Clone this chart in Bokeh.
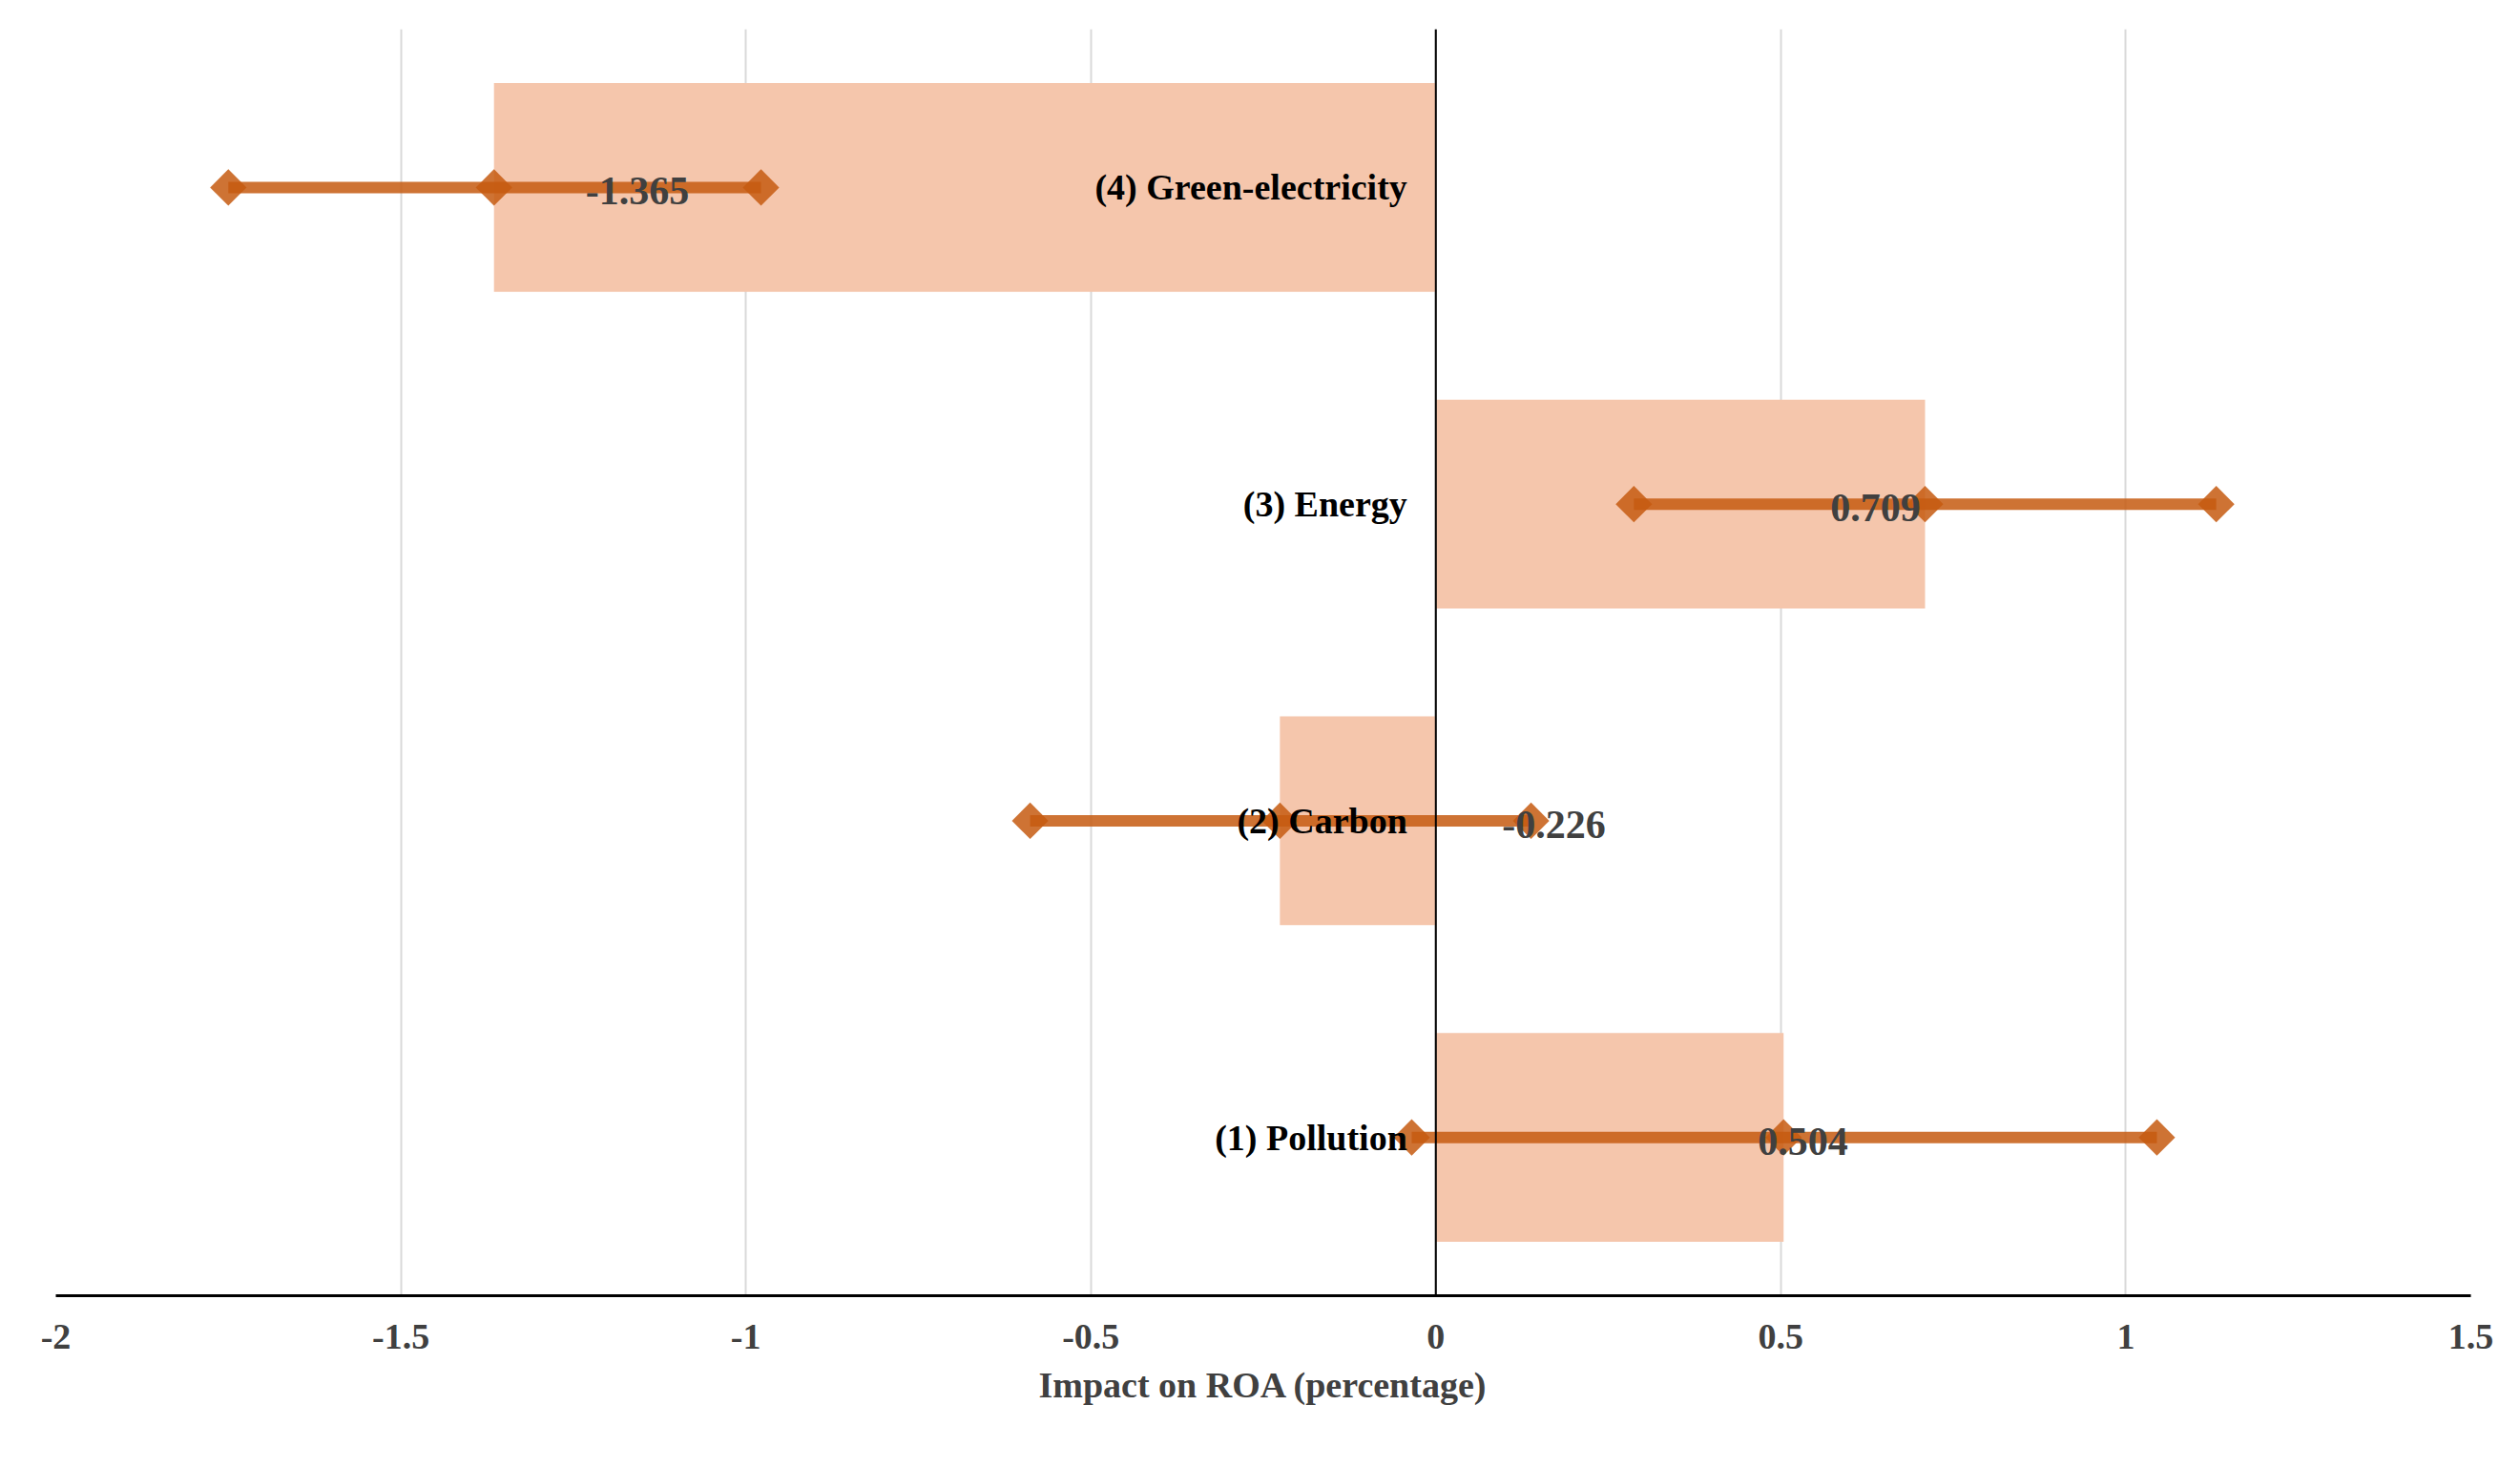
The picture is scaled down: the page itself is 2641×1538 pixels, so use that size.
import numpy as np
from bokeh.plotting import figure
from bokeh.models import ColumnDataSource, Span, FixedTicker, FactorRange
from bokeh.core.properties import value
from bokeh.embed import file_html
from bokeh.resources import INLINE

# ---- data ----
categories = ["(1) Pollution", "(2) Carbon", "(3) Energy", "(4) Green-electricity"]
estimates = [0.504, -0.226, 0.709, -1.365]
ci_low = [-0.035, -0.588, 0.287, -1.750]
ci_high = [1.045, 0.138, 1.131, -0.978]
value_label_x = [0.532, 0.171, 0.637, -1.157]
value_labels = ["0.504", "-0.226", "0.709", "-1.365"]
x_ticks = [-2, -1.5, -1, -0.5, 0, 0.5, 1, 1.5]

FONT = "Liberation Serif"
BAR = "#F5C6AC"
ERR = "#C55A11"
GRAY = "#404040"

src = ColumnDataSource(dict(cat=categories, est=estimates, lo=ci_low, hi=ci_high,
                            lx=value_label_x, lab=value_labels,
                            zero=[0] * len(categories)))

p = figure(width=2625, height=1520, y_range=FactorRange(*categories),
           x_range=(-2, 1.5), output_backend="svg", toolbar_location=None,
           min_border_left=58, min_border_right=36, min_border_top=30,
           min_border_bottom=163)
p.outline_line_color = None
p.background_fill_color = "white"

# bars
p.hbar(y="cat", left="zero", right="est", height=0.66, source=src,
       fill_color=BAR, line_color=None)

# zero line
p.add_layout(Span(location=0, dimension="height", line_color="black", line_width=2))

# error bars
p.segment(x0="lo", x1="hi", y0="cat", y1="cat", source=src, line_color=ERR,
          line_width=12, line_alpha=0.85)
for col in ["lo", "est", "hi"]:
    p.scatter(x=col, y="cat", source=src, marker="square", angle=np.pi / 4,
              size=27, fill_color=ERR, fill_alpha=0.85, line_color=None)

# category labels
p.text(x="zero", y="cat", text="cat", source=src, x_offset=-30,
       text_align="right", text_baseline="middle", text_font=value(FONT),
       text_font_style="bold", text_font_size="38px", text_color="black")

# value labels
p.text(x="lx", y="cat", text="lab", source=src, y_offset=4,
       text_align="center", text_baseline="middle", text_font=value(FONT),
       text_font_style="bold", text_font_size="42px", text_color=GRAY)

# axes
p.yaxis.visible = False
p.ygrid.grid_line_color = None
p.xgrid.grid_line_color = "#D9D9D9"
p.xgrid.grid_line_width = 2
p.xaxis.ticker = FixedTicker(ticks=x_ticks)
p.xaxis.major_label_overrides = {t: ("%g" % t) for t in x_ticks}
p.xaxis.axis_line_color = "black"
p.xaxis.axis_line_width = 3
p.xaxis.major_tick_line_color = None
p.xaxis.minor_tick_line_color = None
p.xaxis.major_tick_out = 0
p.xaxis.major_label_standoff = 30
p.xaxis.major_label_text_font = FONT
p.xaxis.major_label_text_font_style = "bold"
p.xaxis.major_label_text_font_size = "38px"
p.xaxis.major_label_text_color = GRAY
p.xaxis.axis_label = "Impact on ROA (percentage)"
p.xaxis.axis_label_text_font = FONT
p.xaxis.axis_label_text_font_style = "bold"
p.xaxis.axis_label_text_font_size = "38px"
p.xaxis.axis_label_text_color = GRAY
p.xaxis.axis_label_standoff = 14

open("out.html", "w").write(file_html(p, INLINE))
